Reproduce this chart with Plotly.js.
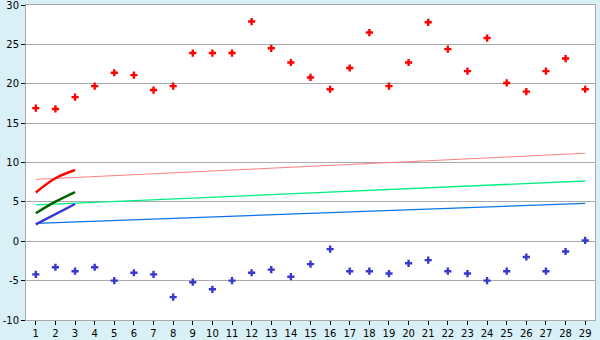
<!DOCTYPE html>
<html>
<head>
<meta charset="utf-8">
<script src="https://cdn.plot.ly/plotly-3.0.1.min.js"></script>
<style>html,body{margin:0;padding:0;background:#d9f0f7;}#chart{width:600px;height:340px;}</style>
</head>
<body>
<div id="chart"></div>
<script>
const days = Array.from({length: 29}, (_, i) => i + 1);
const highs = [16.9, 16.8, 18.3, 19.7, 21.4, 21.1, 19.2, 19.7, 23.9, 23.9, 23.9, 27.9, 24.5, 22.7, 20.8, 19.3, 22.0, 26.5, 19.7, 22.7, 27.8, 24.4, 21.6, 25.8, 20.1, 19.0, 21.6, 23.2, 19.3];
const lows = [-4.2, -3.3, -3.8, -3.3, -5.0, -4.0, -4.2, -7.1, -5.2, -6.1, -5.0, -4.0, -3.6, -4.5, -2.9, -1.0, -3.8, -3.8, -4.1, -2.8, -2.4, -3.8, -4.1, -5.0, -3.8, -2.0, -3.8, -1.3, 0.1];
const trendX = [1, 29];
const trendHigh = [7.86, 11.17];
const trendMean = [4.62, 7.65];
const trendLow = [2.27, 4.82];
const shortX = [1, 2, 3];
const shortHigh = [6.2, 8.0, 9.05];
const shortMean = [3.55, 5.02, 6.25];
const shortLow = [2.15, 3.42, 4.73];
const yTicks = [-10, -5, 0, 5, 10, 15, 20, 25, 30];
const yTickLabels = ['-10', '-5', '0', '5', '10', '15', '20', '25', '30'];

const traces = [
  {x: trendX, y: trendHigh, mode: 'lines', line: {color: '#ff8080', width: 1}},
  {x: trendX, y: trendMean, mode: 'lines', line: {color: '#00f080', width: 1.3}},
  {x: trendX, y: trendLow, mode: 'lines', line: {color: '#0a74e8', width: 1.3}},
  {x: shortX, y: shortHigh, mode: 'lines', line: {color: '#ff0000', width: 2.5, shape: 'spline'}},
  {x: shortX, y: shortMean, mode: 'lines', line: {color: '#006400', width: 2.5, shape: 'spline'}},
  {x: shortX, y: shortLow, mode: 'lines', line: {color: '#3838d0', width: 2.5}},
  {x: days, y: highs, mode: 'markers', marker: {symbol: 'cross', size: 6, color: '#ff0000', line: {width: 0}}},
  {x: days, y: lows, mode: 'markers', marker: {symbol: 'cross', size: 6, color: '#3838cc', line: {width: 0}}}
];

const layout = {
  width: 600, height: 340,
  margin: {l: 26, r: 5, t: 5, b: 20},
  paper_bgcolor: '#d9f0f7',
  plot_bgcolor: '#ffffff',
  showlegend: false,
  font: {family: 'DejaVu Sans, Verdana, sans-serif', size: 10, color: '#000000'},
  xaxis: {
    range: [0.5, 29.5], tickmode: 'array', tickvals: days, ticktext: days.map(String),
    showgrid: false, zeroline: false, showline: true, linecolor: '#aaaaaa', linewidth: 1, mirror: true,
    ticks: 'outside', ticklen: 4, tickcolor: '#000000', tickfont: {size: 10},
    ticklabeloverflow: 'allow', automargin: false
  },
  yaxis: {
    range: [-10, 30], tickmode: 'array', tickvals: yTicks, ticktext: yTickLabels,
    showgrid: true, gridcolor: '#aaaaaa', gridwidth: 1, zeroline: false,
    showline: true, linecolor: '#aaaaaa', linewidth: 1, mirror: true,
    ticks: 'outside', ticklen: 4, tickcolor: '#000000', tickfont: {size: 10},
    ticklabeloverflow: 'allow', automargin: false
  }
};
Plotly.newPlot('chart', traces, layout, {displayModeBar: false, staticPlot: true});
</script>
</body>
</html>
